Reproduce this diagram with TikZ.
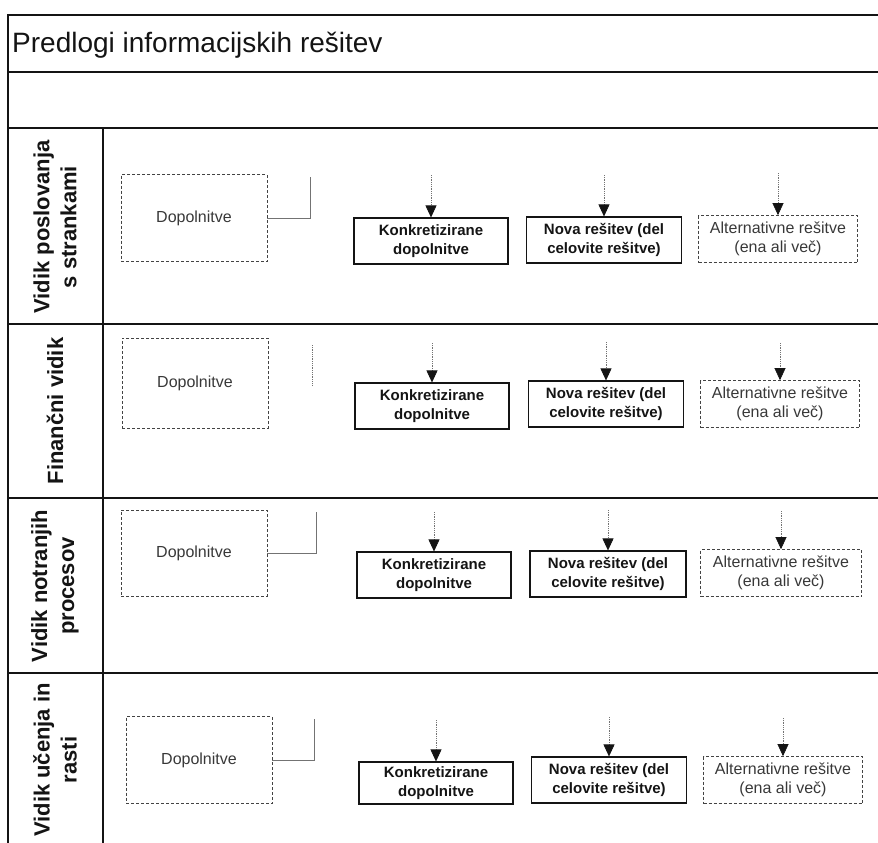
\documentclass[tikz,border=0pt]{standalone}
\usepackage{fontspec}
\setmainfont{Liberation Sans}
\usetikzlibrary{arrows.meta}

\definecolor{ink}{gray}{0.08}
\definecolor{faint}{gray}{0.45}

\tikzset{
  frame/.style={draw=ink, line width=1.4pt},
  addbox/.style={draw=ink!80, line width=0.7pt, dash pattern=on 3pt off 2pt,
    minimum width=146pt, minimum height=87pt, inner sep=0pt,
    font=\fontsize{16}{18}\selectfont, text=ink!85},
  solidbox/.style={draw=ink, line width=1.1pt, minimum width=154pt,
    minimum height=46pt, inner sep=0pt, align=center,
    font=\fontsize{15}{19.5}\selectfont\bfseries, text=ink},
  altbox/.style={draw=ink!80, line width=0.7pt, dash pattern=on 3pt off 2pt,
    minimum width=159pt, minimum height=47pt, inner sep=0pt, align=center,
    font=\fontsize{16}{19.5}\selectfont, text=ink!85},
  feed/.style={draw=faint, line width=0.6pt, dash pattern=on 1pt off 0.8pt,
    -{Triangle[width=11pt,length=12pt,color=ink,fill=ink]}},
  link/.style={draw=faint, line width=0.7pt},
  lanelabel/.style={rotate=90, align=center, inner sep=0pt,
    font=\fontsize{22}{27}\selectfont\bfseries, text=ink},
}

\begin{document}
\begin{tikzpicture}[x=1pt, y=-1pt]
  \useasboundingbox (0,0) rectangle (878,843);

  % table frame
  \draw[frame] (878,15) -- (8,15) -- (8,843);
  \draw[frame] (8,72) -- (878,72);
  \draw[frame] (8,128) -- (878,128);
  \draw[frame] (8,324) -- (878,324);
  \draw[frame] (8,498) -- (878,498);
  \draw[frame] (8,673) -- (878,673);
  \draw[frame] (103,128) -- (103,843);

  \node[anchor=west, inner sep=0pt, font=\fontsize{28}{30}\selectfont, text=ink]
    (title) at (12,45) {Predlogi informacijskih rešitev};

  % lane labels
  \node[lanelabel] (lab1) at (55,227) {Vidik poslovanja\\s strankami};
  \node[lanelabel] (lab2) at (55,411) {Finančni vidik};
  \node[lanelabel] (lab3) at (55,586) {Vidik notranjih\\procesov};
  \node[lanelabel] (lab4) at (55,760) {Vidik učenja in\\rasti};

  % lane 1
  \node[addbox] (d1) at (194,218) {Dopolnitve};
  \node[solidbox] (k1) at (431,241) {Konkretizirane\\dopolnitve};
  \node[solidbox, minimum width=155pt] (n1) at (604,240) {Nova rešitev (del\\celovite rešitve)};
  \node[altbox] (a1) at (778,239) {Alternativne rešitve\\(ena ali več)};
  \coordinate (c1) at (310,177);
  \draw[link] (d1.east) -| (c1);
  \coordinate (tk1) at (431,175);
  \coordinate (tn1) at (604,175);
  \coordinate (ta1) at (778,173);
  \draw[feed] (tk1) -- (k1.north);
  \draw[feed] (tn1) -- (n1.north);
  \draw[feed] (ta1) -- (a1.north);

  % lane 2
  \node[addbox, minimum height=90pt] (d2) at (195,383) {Dopolnitve};
  \node[solidbox] (k2) at (432,406) {Konkretizirane\\dopolnitve};
  \node[solidbox, minimum width=155pt] (n2) at (606,404) {Nova rešitev (del\\celovite rešitve)};
  \node[altbox] (a2) at (780,404) {Alternativne rešitve\\(ena ali več)};
  \coordinate (c2a) at (312,345);
  \coordinate (c2b) at (312,385);
  \draw[link, dash pattern=on 1pt off 0.8pt] (c2a) -- (c2b);
  \coordinate (tk2) at (432,343);
  \coordinate (tn2) at (606,342);
  \coordinate (ta2) at (780,343);
  \draw[feed] (tk2) -- (k2.north);
  \draw[feed] (tn2) -- (n2.north);
  \draw[feed] (ta2) -- (a2.north);

  % lane 3
  \node[addbox, minimum height=86pt] (d3) at (194,553) {Dopolnitve};
  \node[solidbox] (k3) at (434,575) {Konkretizirane\\dopolnitve};
  \node[solidbox, minimum width=156pt] (n3) at (608,574) {Nova rešitev (del\\celovite rešitve)};
  \node[altbox, minimum width=161pt] (a3) at (781,573) {Alternativne rešitve\\(ena ali več)};
  \coordinate (c3) at (316,512);
  \draw[link] (d3.east) -| (c3);
  \coordinate (tk3) at (434,512);
  \coordinate (tn3) at (608,510);
  \coordinate (ta3) at (781,511);
  \draw[feed] (tk3) -- (k3.north);
  \draw[feed] (tn3) -- (n3.north);
  \draw[feed] (ta3) -- (a3.north);

  % lane 4
  \node[addbox] (d4) at (199,760) {Dopolnitve};
  \node[solidbox, minimum height=42pt] (k4) at (436,783) {Konkretizirane\\dopolnitve};
  \node[solidbox, minimum width=155pt] (n4) at (609,780) {Nova rešitev (del\\celovite rešitve)};
  \node[altbox] (a4) at (783,780) {Alternativne rešitve\\(ena ali več)};
  \coordinate (c4) at (314,719);
  \draw[link] (d4.east) -| (c4);
  \coordinate (tk4) at (436,720);
  \coordinate (tn4) at (609,717);
  \coordinate (ta4) at (783,718);
  \draw[feed] (tk4) -- (k4.north);
  \draw[feed] (tn4) -- (n4.north);
  \draw[feed] (ta4) -- (a4.north);
\end{tikzpicture}
\end{document}
